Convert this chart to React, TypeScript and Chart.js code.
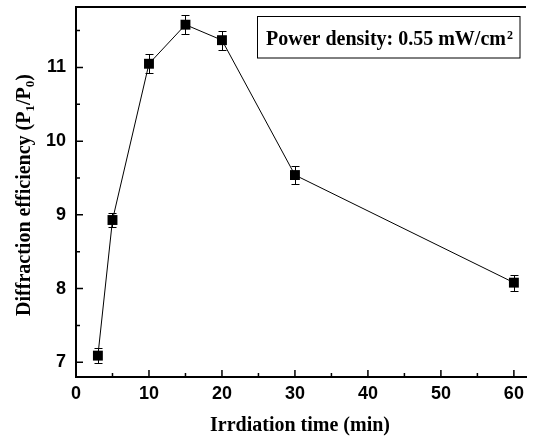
import React, { useEffect, useRef } from "react";
import { Chart, registerables } from "chart.js";

Chart.register(...registerables);

// ---- data ----
const xValues = [3, 5, 10, 15, 20, 30, 60];
const yValues = [7.09, 8.93, 11.05, 11.58, 11.37, 9.54, 8.08];
const yErrors = [0.1, 0.1, 0.13, 0.13, 0.13, 0.12, 0.11];

const xTickValues = [0, 10, 20, 30, 40, 50, 60];
const xMinorTicks = [5, 15, 25, 35, 45, 55];
const yTickValues = [7, 8, 9, 10, 11];
const yMinorTicks = [7.5, 8.5, 9.5, 10.5, 11.5];

const xTitle = "Irrdiation time (min)";
const yTitleParts: [string, boolean][] = [
  ["Diffraction efficiency (P", false],
  ["1", true],
  ["/P", false],
  ["0", true],
  [")", false],
];
const legendMain = "Power density: 0.55 mW/cm";
const legendSup = "2";

const SERIF = "'Liberation Serif', 'Times New Roman', serif";
const SANS = "'Liberation Sans', Arial, sans-serif";

const decorPlugin = {
  id: "decor",
  beforeDatasetsDraw(chart: any) {
    const ctx = chart.ctx;
    const xs = chart.scales.x;
    const ys = chart.scales.y;
    ctx.save();
    ctx.strokeStyle = "#000";
    ctx.lineWidth = 1;
    for (let i = 0; i < xValues.length; i++) {
      const px = Math.round(xs.getPixelForValue(xValues[i])) + 0.5;
      const yTop = Math.round(ys.getPixelForValue(yValues[i] + yErrors[i])) + 0.5;
      const yBot = Math.round(ys.getPixelForValue(yValues[i] - yErrors[i])) + 0.5;
      ctx.beginPath();
      ctx.moveTo(px, yTop);
      ctx.lineTo(px, yBot);
      ctx.moveTo(px - 4, yTop);
      ctx.lineTo(px + 4, yTop);
      ctx.moveTo(px - 4, yBot);
      ctx.lineTo(px + 4, yBot);
      ctx.stroke();
    }
    ctx.restore();
  },
  afterDraw(chart: any) {
    const ctx = chart.ctx;
    const { left, right, top, bottom } = chart.chartArea;
    const xs = chart.scales.x;
    const ys = chart.scales.y;
    ctx.save();
    ctx.strokeStyle = "#000";
    // top frame line
    ctx.lineWidth = 2;
    ctx.beginPath();
    ctx.moveTo(left - 1, top);
    ctx.lineTo(right, top);
    ctx.stroke();
    // inward tick marks
    ctx.lineWidth = 1.5;
    ctx.beginPath();
    xTickValues.forEach((v) => {
      const p = xs.getPixelForValue(v);
      ctx.moveTo(p, bottom);
      ctx.lineTo(p, bottom - 7);
    });
    xMinorTicks.forEach((v) => {
      const p = xs.getPixelForValue(v);
      ctx.moveTo(p, bottom);
      ctx.lineTo(p, bottom - 4);
    });
    yTickValues.forEach((v) => {
      const p = ys.getPixelForValue(v);
      ctx.moveTo(left, p);
      ctx.lineTo(left + 7, p);
    });
    yMinorTicks.forEach((v) => {
      const p = ys.getPixelForValue(v);
      ctx.moveTo(left, p);
      ctx.lineTo(left + 4, p);
    });
    ctx.stroke();

    ctx.fillStyle = "#000";
    // x title
    ctx.font = `bold 20px ${SERIF}`;
    ctx.textAlign = "center";
    ctx.textBaseline = "alphabetic";
    ctx.fillText(xTitle, 300, bottom + 54);

    // y title (rotated, with subscripts)
    const mainFont = `bold 20px ${SERIF}`;
    const subFont = `bold 13px ${SERIF}`;
    let total = 0;
    yTitleParts.forEach(([t, sub]) => {
      ctx.font = sub ? subFont : mainFont;
      total += ctx.measureText(t).width;
    });
    ctx.translate(30, (top + bottom) / 2 + 3);
    ctx.rotate(-Math.PI / 2);
    ctx.textAlign = "left";
    let cx = -total / 2;
    yTitleParts.forEach(([t, sub]) => {
      ctx.font = sub ? subFont : mainFont;
      ctx.fillText(t, cx, sub ? 4 : 0);
      cx += ctx.measureText(t).width;
    });
    ctx.setTransform(1, 0, 0, 1, 0, 0);

    // legend box
    ctx.lineWidth = 1;
    ctx.strokeRect(257.5, 16.5, 262.5, 41.5);
    ctx.font = `bold 20px ${SERIF}`;
    ctx.textAlign = "left";
    ctx.fillText(legendMain, 266, 45);
    const w = ctx.measureText(legendMain).width;
    ctx.font = `bold 12px ${SERIF}`;
    ctx.fillText(legendSup, 266 + w + 1, 39);
    ctx.restore();
  },
};

export default function App() {
  const ref = useRef<HTMLCanvasElement | null>(null);
  useEffect(() => {
    if (!ref.current) return;
    const chart = new Chart(ref.current, {
      type: "line",
      data: {
        datasets: [
          {
            data: xValues.map((x, i) => ({ x, y: yValues[i] })),
            borderColor: "#000",
            borderWidth: 1,
            backgroundColor: "#000",
            pointStyle: "rect",
            pointRadius: 7,
            pointBorderWidth: 0,
            pointBackgroundColor: "#000",
            tension: 0,
            fill: false,
          },
        ],
      },
      options: {
        animation: false,
        responsive: false,
        maintainAspectRatio: false,
        layout: { padding: { left: 0, top: 5, right: 0, bottom: 0 } },
        plugins: { legend: { display: false }, tooltip: { enabled: false } },
        scales: {
          x: {
            type: "linear",
            min: 0,
            max: 61.66,
            afterBuildTicks: (s: any) => {
              s.ticks = xTickValues.map((v) => ({ value: v }));
            },
            afterFit: (s: any) => {
              s.height = 60;
              s.paddingLeft = 0;
              s.paddingRight = 0;
            },
            grid: { display: false, drawTicks: false },
            border: { display: true, color: "#000", width: 2 },
            ticks: {
              color: "#000",
              font: { family: SANS, size: 18, weight: "bold" },
              padding: 6,
              maxRotation: 0,
            },
          },
          y: {
            type: "linear",
            min: 6.8,
            max: 11.82,
            afterBuildTicks: (s: any) => {
              s.ticks = yTickValues.map((v) => ({ value: v }));
            },
            afterFit: (s: any) => {
              s.width = 76;
              s.paddingTop = 0;
              s.paddingBottom = 0;
            },
            grid: { display: false, drawTicks: false },
            border: { display: true, color: "#000", width: 2 },
            ticks: {
              color: "#000",
              font: { family: SANS, size: 18, weight: "bold" },
              padding: 10,
            },
          },
        },
      },
      plugins: [decorPlugin],
    });
    return () => chart.destroy();
  }, []);
  return (
    <div style={{ position: "absolute", left: 0, top: 0, width: 533, height: 437, background: "#fff" }}>
      <canvas ref={ref} width={533} height={437} />
    </div>
  );
}
